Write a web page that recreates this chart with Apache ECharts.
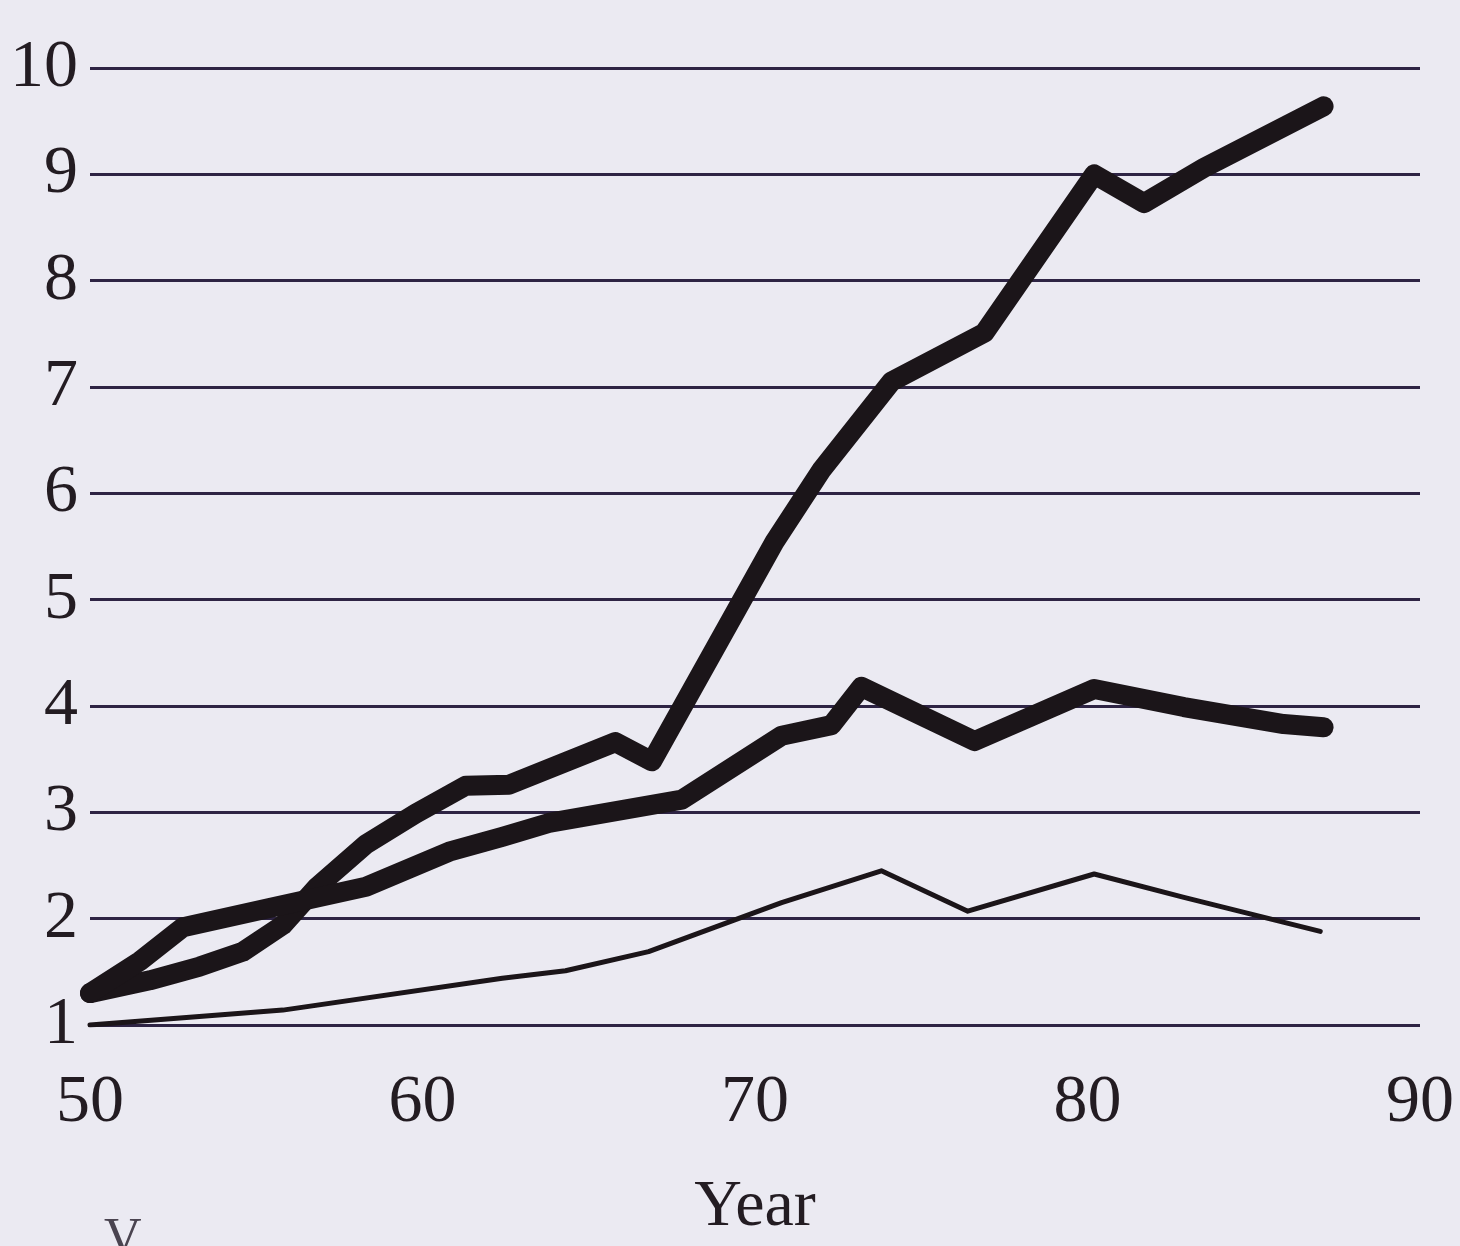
<!DOCTYPE html>
<html>
<head>
<meta charset="utf-8">
<title>Year chart</title>
<script src="https://cdn.jsdelivr.net/npm/echarts@6/dist/echarts.min.js"></script>
<style>
html, body { margin:0; padding:0; background:#ebeaf2; }
#chart { width:1460px; height:1246px; }
</style>
</head>
<body>
<div id="chart"></div>
<script>
// 刻度
var xTicks = [50, 60, 70, 80, 90];
var yTicks = [1, 2, 3, 4, 5, 6, 7, 8, 9, 10];

// 上面的粗线
var yearsA  = [50, 51.8, 53.3, 54.6, 55.8, 56.8, 58.3, 59.8, 61.3, 62.6, 65.8, 66.9, 70.6, 72.0, 74.1, 76.9, 80.2, 81.7, 83.5, 87.1];
var valuesA = [1.3, 1.42, 1.55, 1.69, 1.94, 2.29, 2.7, 2.99, 3.25, 3.26, 3.66, 3.48, 5.55, 6.22, 7.05, 7.51, 9.0, 8.73, 9.06, 9.64];

// 中间的粗线
var yearsB  = [50, 51.5, 52.8, 55.4, 58.3, 60.8, 62.4, 63.8, 67.8, 70.8, 72.3, 73.2, 76.6, 80.2, 82.9, 85.9, 87.1];
var valuesB = [1.3, 1.6, 1.92, 2.1, 2.3, 2.63, 2.77, 2.9, 3.12, 3.72, 3.82, 4.18, 3.67, 4.16, 3.99, 3.83, 3.8];

// 细线
var yearsC  = [50, 55.8, 62.4, 64.3, 66.8, 68.8, 70.8, 73.8, 76.4, 80.2, 82.9, 87.0];
var valuesC = [1.0, 1.14, 1.44, 1.51, 1.69, 1.92, 2.15, 2.45, 2.07, 2.42, 2.2, 1.88];

function pairs(xs, ys){
    var out = [];
    for(var i = 0; i < xs.length; i++){
        out.push([xs[i], ys[i]]);
    }
    return out;
}

var ink = '#1b1519';
var font = '"Liberation Serif", "Times New Roman", serif';

var myChart = echarts.init(document.getElementById('chart'));
var option = {
    backgroundColor: '#ebeaf2',
    animation: false,
    grid: { left: 90, right: 40, top: 68, bottom: 206 },
    xAxis: {
        type: 'value',
        min: xTicks[0],
        max: xTicks[xTicks.length - 1],
        interval: 10,
        name: 'Year',
        nameLocation: 'middle',
        nameGap: 150,
        nameTextStyle: { fontFamily: font, fontSize: 66, color: '#231c22' },
        axisLine: { show: false },
        axisTick: { show: false },
        splitLine: { show: false },
        axisLabel: {
            margin: 44,
            fontFamily: font,
            fontSize: 68,
            color: '#231c22',
            formatter: function(v){ return xTicks.indexOf(v) >= 0 ? String(v) : ''; }
        }
    },
    yAxis: {
        type: 'value',
        min: yTicks[0],
        max: yTicks[yTicks.length - 1],
        interval: 1,
        axisLine: { show: false },
        axisTick: { show: false },
        axisLabel: {
            margin: 12,
            fontFamily: font,
            fontSize: 68,
            color: '#231c22',
            padding: [0, 0, 8, 0]
        },
        splitLine: { lineStyle: { color: '#2e2444', width: 3 } }
    },
    series: [
        {
            name: 'A',
            type: 'line',
            data: pairs(yearsA, valuesA),
            symbol: 'none',
            lineStyle: { color: ink, width: 20, cap: 'round', join: 'round' },
            z: 5
        },
        {
            name: 'B',
            type: 'line',
            data: pairs(yearsB, valuesB),
            symbol: 'none',
            lineStyle: { color: ink, width: 20, cap: 'round', join: 'round' },
            z: 5
        },
        {
            name: 'C',
            type: 'line',
            data: pairs(yearsC, valuesC),
            symbol: 'none',
            lineStyle: { color: ink, width: 5, cap: 'round', join: 'round' },
            z: 4
        }
    ],
    graphic: [
        // 页面底部被裁掉的字
        {
            type: 'text',
            left: 104,
            top: 1214,
            style: { text: 'V', fontFamily: font, fontSize: 52, fill: '#4a4450' }
        }
    ]
};
myChart.setOption(option);
</script>
</body>
</html>
